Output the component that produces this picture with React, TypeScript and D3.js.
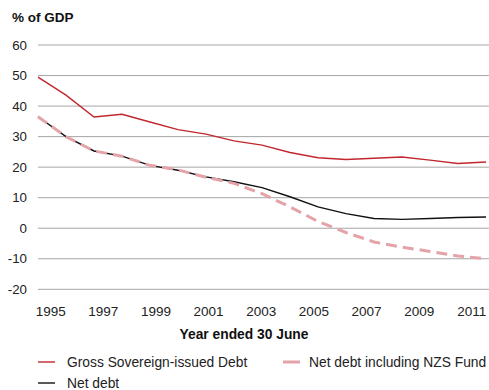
import React from 'react'
import * as d3 from 'd3'

const YEARS = [1995, 1996, 1997, 1998, 1999, 2000, 2001, 2002, 2003, 2004, 2005, 2006, 2007, 2008, 2009, 2010, 2011]
const GROSS = [49.5, 43.6, 36.4, 37.3, 34.8, 32.3, 30.8, 28.6, 27.2, 24.8, 23.1, 22.5, 22.9, 23.3, 22.3, 21.2, 21.7]
const NET = [36.5, 30.0, 25.3, 23.6, 20.6, 19.0, 16.8, 15.2, 13.3, 10.3, 7.0, 4.8, 3.2, 2.9, 3.2, 3.5, 3.7]
const NET_NZS = [36.5, 30.0, 25.3, 23.6, 20.6, 19.1, 16.7, 14.7, 11.3, 7.0, 2.2, -1.4, -4.5, -6.2, -7.6, -9.1, -10.0]
const Y_TICKS = [60, 50, 40, 30, 20, 10, 0, -10, -20]
const X_LABELS = [1995, 1997, 1999, 2001, 2003, 2005, 2007, 2009, 2011]

const COLORS = { gross: '#c1272d', net: '#111111', nzs: '#e3a3a8', grid: '#a6a6a6' }
const FONT = 'Liberation Sans, Arial, sans-serif'

export default function App() {
  const width = 489
  const height = 390

  const y = d3.scaleLinear().domain([-20, 60]).range([289.3, 45])
  const x = d3.scalePoint<number>().domain(YEARS).range([38, 486])
  const xLabel = d3.scaleBand<number>().domain(YEARS).range([37.5, 485])

  const line = (vals: number[]) =>
    d3.line<number>()
      .x((_, i) => x(YEARS[i]) as number)
      .y(d => y(d))
      .curve(d3.curveLinear)(vals) as string

  return (
    <svg width={width} height={height} style={{ position: 'absolute', left: 0, top: 0 }} fontFamily={FONT}>
      <rect width={width} height={height} fill="#fff" />
      <text x={12} y={22} fontSize={13.5} fontWeight="bold" fill="#111">% of GDP</text>

      {Y_TICKS.map(t => (
        <g key={t}>
          <line x1={38} x2={489} y1={y(t)} y2={y(t)} stroke={COLORS.grid} strokeWidth={1} />
          <text x={27} y={y(t) + 4.5} textAnchor="end" fontSize={13.3} fill="#222">{t}</text>
        </g>
      ))}

      {X_LABELS.map(yr => (
        <text key={yr} x={(xLabel(yr) as number) + xLabel.bandwidth() / 2} y={316} textAnchor="middle" fontSize={13.5} fill="#222">
          {yr}
        </text>
      ))}
      <text x={244} y={339} textAnchor="middle" fontSize={13.8} fontWeight="bold" fill="#111">Year ended 30 June</text>

      <path d={line(NET)} fill="none" stroke={COLORS.net} strokeWidth={1.4} />
      <path d={line(NET_NZS)} fill="none" stroke={COLORS.nzs} strokeWidth={3} strokeDasharray="11,6" />
      <path d={line(GROSS)} fill="none" stroke={COLORS.gross} strokeWidth={1.4} />

      <g fontSize={13.8} fill="#222">
        <line x1={38} x2={55} y1={362} y2={362} stroke={COLORS.gross} strokeWidth={1.4} />
        <text x={67} y={367}>Gross Sovereign-issued Debt</text>
        <line x1={283} x2={300} y1={362} y2={362} stroke={COLORS.nzs} strokeWidth={3} />
        <text x={309} y={367}>Net debt including NZS Fund</text>
        <line x1={38} x2={55} y1={383} y2={383} stroke={COLORS.net} strokeWidth={1.4} />
        <text x={67} y={388}>Net debt</text>
      </g>
    </svg>
  )
}
